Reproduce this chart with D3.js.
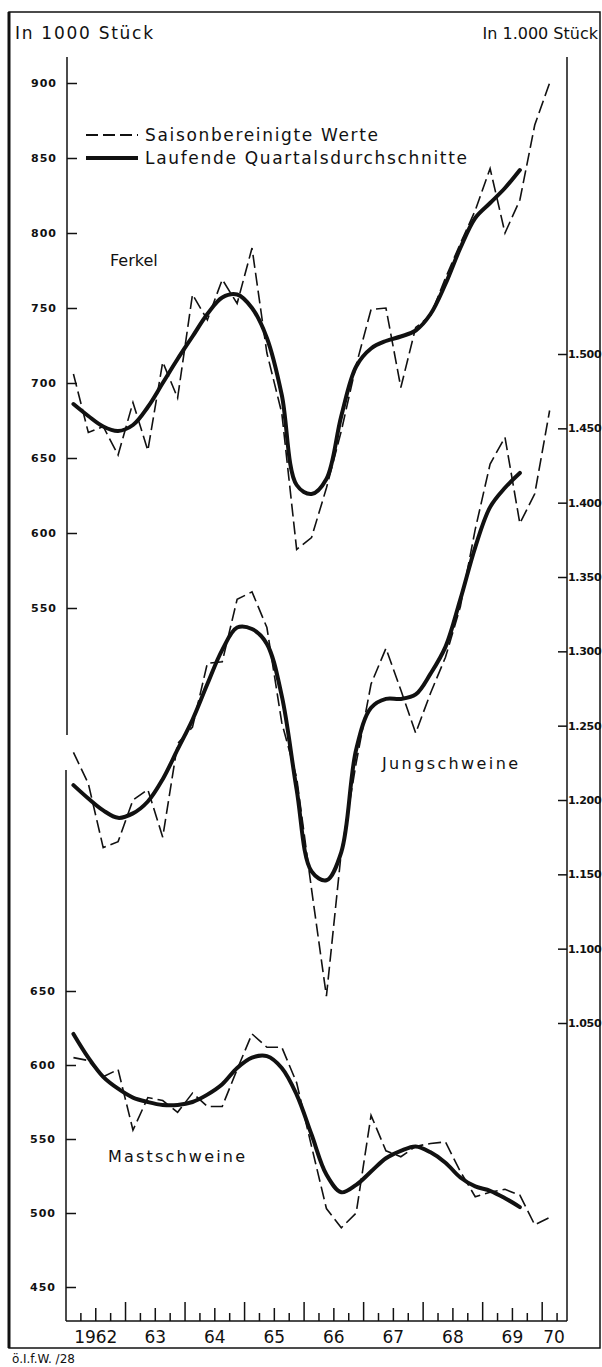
<!DOCTYPE html>
<html>
<head>
<meta charset="utf-8">
<script src="https://cdn.jsdelivr.net/npm/d3@7"></script>
<style>
  body { margin: 0; background: #fff; }
  text { font-family: "DejaVu Sans", sans-serif; fill: #111; }
  .tick text { font-weight: bold; }
</style>
</head>
<body>
<svg id="chart" width="602" height="1367"></svg>
<script>
// quarterly values 1962 Q1 ... 1970 Q1, in 1000 Stück
const years = [1962, 1963, 1964, 1965, 1966, 1967, 1968, 1969, 1970]
const yearLabels = ["1962", "63", "64", "65", "66", "67", "68", "69", "70"]

const ferkelSaison = [706, 667, 671, 652, 687, 655, 714, 690, 759, 742, 769, 753, 790, 720, 680, 589,
  597, 630, 668, 712, 749, 750, 697, 737, 745, 770, 793, 815, 843, 800, 822, 872, 900]
const ferkelLaufend = [686, 678, 671, 668, 672, 684, 700, 716, 731, 746, 757, 759, 750, 730, 692, 632,
  626, 636, 678, 711, 723, 728, 731, 735, 746, 766, 790, 810, 820, 830, 842]

const jungSaison = [1232, 1211, 1168, 1172, 1200, 1207, 1175, 1238, 1249, 1292, 1293, 1335, 1340, 1316, 1252, 1215,
  1140, 1068, 1165, 1225, 1278, 1302, 1274, 1245, 1272, 1296, 1330, 1382, 1426, 1444, 1386, 1406, 1462]
const jungLaufend = [1210, 1201, 1193, 1188, 1191, 1199, 1214, 1234, 1254, 1278, 1301, 1316, 1315, 1305, 1270, 1207,
  1152, 1146, 1165, 1234, 1262, 1268, 1268, 1271, 1285, 1303, 1335, 1370, 1397, 1410, 1420]

const mastSaison = [605, 603, 592, 597, 556, 578, 576, 568, 581, 572, 572, 597, 621, 612, 612, 588,
  545, 503, 490, 500, 566, 542, 538, 545, 547, 548, 528, 511, 514, 516, 512, 492, 497]
const mastLaufend = [621, 605, 592, 584, 578, 575, 573, 573, 575, 580, 587, 598, 605, 606, 598, 580,
  553, 526, 514, 519, 528, 537, 542, 545, 541, 534, 524, 518, 515, 510, 504]

const ferkelTicks = [550, 600, 650, 700, 750, 800, 850, 900]
const mastTicks = [450, 500, 550, 600, 650]
const jungTicks = [1050, 1100, 1150, 1200, 1250, 1300, 1350, 1400, 1450, 1500]

const svg = d3.select('#chart')
const de = d3.formatLocale({ decimal: ",", thousands: ".", grouping: [3], currency: ["", ""] })

const x = d3.scaleLinear().domain([1962, 1970.4]).range([66, 566])
const yFerkel = d3.scaleLinear().domain([550, 900]).range([608, 83])
const yJung = d3.scaleLinear().domain([1050, 1500]).range([1023, 354])
const yMast = d3.scaleLinear().domain([450, 650]).range([1287, 991])
const qx = i => x(years[0] + i / 4 + 0.125)
const baseY = 1321

// frame
svg.append('rect')
  .attr('x', 9).attr('y', 12).attr('width', 591).attr('height', 1336)
  .attr('fill', 'none').attr('stroke', '#111').attr('stroke-width', 1.5)
svg.append('line').attr('x1', 9).attr('x2', 9).attr('y1', 12).attr('y2', 1348)
  .attr('stroke', '#111').attr('stroke-width', 3)

// titles
svg.append('text').attr('x', 15).attr('y', 39).attr('font-size', 17)
  .attr('textLength', 138).attr('lengthAdjust', 'spacing').text('In 1000 Stück')
svg.append('text').attr('x', 598).attr('y', 39).attr('font-size', 16)
  .attr('font-family', 'Liberation Sans, sans-serif')
  .attr('text-anchor', 'end').text('In 1.000 Stück')

// axis lines
const axLine = (x1, y1, x2, y2) => svg.append('line')
  .attr('x1', x1).attr('y1', y1).attr('x2', x2).attr('y2', y2)
  .attr('stroke', '#111').attr('stroke-width', 1.5)
axLine(67, 57, 67, 735)
axLine(66, 770, 66, baseY)
axLine(567, 57, 567, baseY)
axLine(66, baseY, 567, baseY)

// left axes
const leftAxis = (scale, ticks) => d3.axisLeft(scale).tickValues(ticks)
  .tickSizeInner(-10).tickSizeOuter(0).tickPadding(10)
svg.append('g').attr('transform', 'translate(67,0)').call(leftAxis(yFerkel, ferkelTicks))
svg.append('g').attr('transform', 'translate(66,0)').call(leftAxis(yMast, mastTicks))

// right axis
svg.append('g').attr('transform', 'translate(567,0)')
  .call(d3.axisRight(yJung).tickValues(jungTicks).tickFormat(de.format(','))
    .tickSizeInner(-9).tickSizeOuter(0).tickPadding(1))
  .selectAll('.tick text').attr('font-weight', 'normal')
    .attr('font-family', 'Liberation Sans, sans-serif').attr('font-size', 11)
    .attr('letter-spacing', -0.3)

svg.selectAll('.domain').remove()
svg.selectAll('.tick line').attr('stroke', '#111').attr('stroke-width', 1.5)
svg.selectAll('.tick text').filter(function () { return !this.getAttribute('font-size') })
  .attr('font-size', 11).attr('letter-spacing', 1)

// x axis ticks (pointing up)
const quarterBounds = d3.range(1, 34).map(i => years[0] + i / 4)
const xTicks = svg.append('g')
xTicks.selectAll('line').data(quarterBounds).enter().append('line')
  .attr('x1', d => x(d)).attr('x2', d => x(d))
  .attr('y1', baseY)
  .attr('y2', d => baseY - (d % 1 === 0 ? 19 : d % 1 === 0.5 ? 13 : 8))
  .attr('stroke', '#111').attr('stroke-width', 1.5)

svg.append('g').selectAll('text').data(yearLabels).enter().append('text')
  .attr('x', (d, i) => x(years[i] + (i < 8 ? 0.5 : 0.2)))
  .attr('y', 1343)
  .attr('text-anchor', 'middle')
  .attr('font-size', 17)
  .text(d => d)

svg.append('text').attr('x', 12).attr('y', 1363).attr('font-size', 12)
  .text('ö.I.f.W. /28')

// series
const series = [
  { s: ferkelSaison, l: ferkelLaufend, y: yFerkel },
  { s: jungSaison, l: jungLaufend, y: yJung },
  { s: mastSaison, l: mastLaufend, y: yMast }
]
series.forEach(({ s, l, y }) => {
  svg.append('path')
    .attr('d', d3.line().x((d, i) => qx(i)).y(d => y(d))(s))
    .attr('fill', 'none').attr('stroke', '#111').attr('stroke-width', 1.6)
    .attr('stroke-dasharray', '13,5')
  svg.append('path')
    .attr('d', d3.line().x((d, i) => qx(i)).y(d => y(d)).curve(d3.curveCatmullRom.alpha(0.5))(l))
    .attr('fill', 'none').attr('stroke', '#111').attr('stroke-width', 4)
    .attr('stroke-linecap', 'round')
})

// series labels
svg.append('text').attr('x', 110).attr('y', 266).attr('font-size', 16).text('Ferkel')
svg.append('text').attr('x', 382).attr('y', 769).attr('font-size', 16)
  .attr('textLength', 136).attr('lengthAdjust', 'spacing').text('Jungschweine')
svg.append('text').attr('x', 108).attr('y', 1162).attr('font-size', 16)
  .attr('textLength', 137).attr('lengthAdjust', 'spacing').text('Mastschweine')

// legend
svg.append('line').attr('x1', 86).attr('x2', 138).attr('y1', 135).attr('y2', 135)
  .attr('stroke', '#111').attr('stroke-width', 1.8).attr('stroke-dasharray', '12,5')
svg.append('line').attr('x1', 86).attr('x2', 138).attr('y1', 158).attr('y2', 158)
  .attr('stroke', '#111').attr('stroke-width', 4)
svg.append('text').attr('x', 145).attr('y', 141).attr('font-size', 17)
  .attr('textLength', 233).attr('lengthAdjust', 'spacing').text('Saisonbereinigte Werte')
svg.append('text').attr('x', 145).attr('y', 164).attr('font-size', 17)
  .attr('textLength', 322).attr('lengthAdjust', 'spacing').text('Laufende Quartalsdurchschnitte')
</script>
</body>
</html>
